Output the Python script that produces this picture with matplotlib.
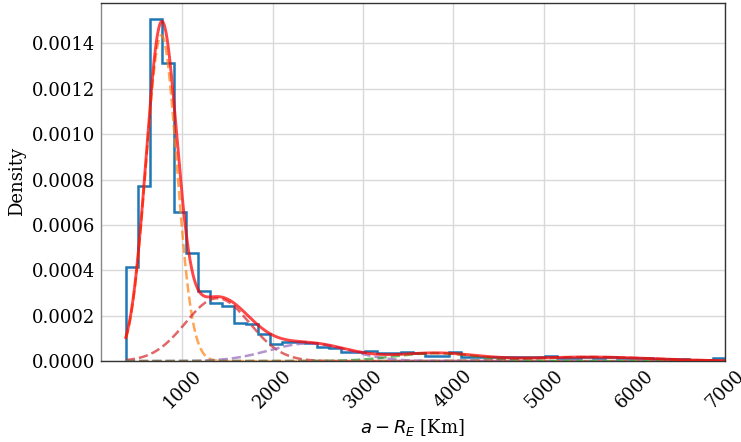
import numpy as np
import matplotlib
matplotlib.use("Agg")
import matplotlib.pyplot as plt

# histogram of a - R_E (density), 50 bins
hist_min = 377
hist_max = 7000
hist_density = [
    0.000417, 0.000774, 0.001509, 0.001315, 0.000658, 0.000477, 0.000310, 0.000257,
    0.000244, 0.000166, 0.000163, 0.000120, 0.000076, 0.000085, 0.000083, 0.000080,
    0.000063, 0.000056, 0.000038, 0.000038, 0.000045, 0.000034, 0.000034, 0.000041,
    0.000034, 0.000022, 0.000022, 0.000038, 0.000019, 0.000019, 0.000019, 0.000016,
    0.000016, 0.000016, 0.000016, 0.000023, 0.000012, 0.000014, 0.000016, 0.000013,
    0.000018, 0.000015, 0.000012, 0.000014, 0.000011, 0.000010, 0.000008, 0.000007,
    0.000005, 0.000015,
]

# gaussian mixture components (weight, mean, sigma) and their colours
comp_weight = [0.612, 0.2465, 0.086, 0.0395, 0.0316]
comp_mean = [770, 1390, 2400, 3800, 5500]
comp_sigma = [170, 355, 440, 450, 700]
comp_color = ["C1", "C3", "C4", "C2", "C5"]

plt.rcParams['font.family'] = ['DejaVu Serif']
plt.rcParams['mathtext.fontset'] = 'dejavusans'
plt.rcParams['font.size'] = 13

fig, ax = plt.subplots(figsize=(7.41, 4.42), dpi=100)
fig.subplots_adjust(left=0.136, right=0.978, bottom=0.183, top=0.994)

nbins = len(hist_density)
edges = np.linspace(hist_min, hist_max, nbins + 1)
centers = 0.5 * (edges[:-1] + edges[1:])
ax.hist(centers, bins=edges, weights=hist_density, histtype='step',
        color='C0', lw=1.8, zorder=3)

x = np.linspace(hist_min, hist_max, 1000)
total = np.zeros_like(x)
for w, m, s, c in zip(comp_weight, comp_mean, comp_sigma, comp_color):
    g = w / (s * np.sqrt(2 * np.pi)) * np.exp(-0.5 * ((x - m) / s) ** 2)
    total += g
    ax.plot(x, g, '--', color=c, lw=1.8, alpha=0.7, zorder=4)
ax.plot(x, total, '-', color='red', lw=2.1, alpha=0.72, zorder=5)

ax.set_xlim(100, 7000)
ax.set_ylim(0, 0.00158)
ax.set_xticks([1000, 2000, 3000, 4000, 5000, 6000, 7000])
ax.tick_params(axis='x', rotation=45, length=0, pad=4)
ax.tick_params(axis='y', length=0, pad=4)
ax.grid(True, color='#d9d9d9', lw=1.0)
ax.set_axisbelow(True)
for side, sp in ax.spines.items():
    sp.set_color('#333333')
    sp.set_linewidth(1.0)
ax.spines['left'].set_color('#888888')

ax.set_xlabel(r'$a - R_E$ [Km]')
ax.set_ylabel('Density')

fig.savefig('out.png', dpi=100)
